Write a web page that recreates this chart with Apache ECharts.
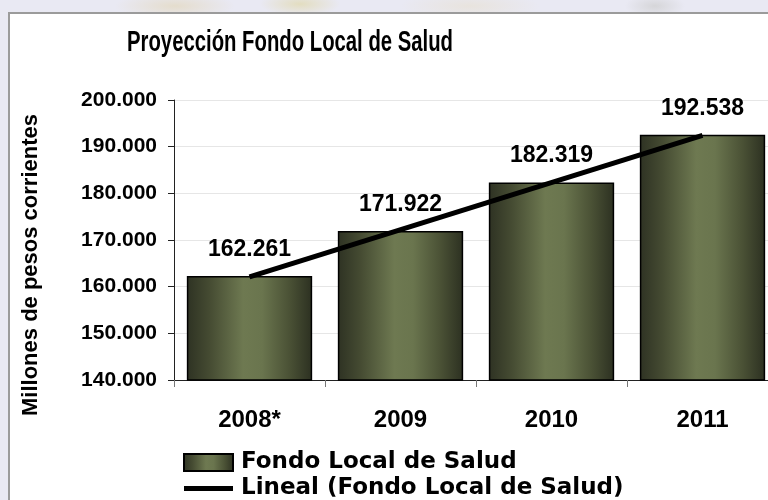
<!DOCTYPE html>
<html>
<head>
<meta charset="utf-8">
<script src="https://cdn.jsdelivr.net/npm/echarts@6/dist/echarts.min.js"></script>
<style>
  html, body { margin: 0; padding: 0; width: 768px; height: 500px; overflow: hidden; }
  body {
    position: relative;
    background:
      radial-gradient(ellipse 60px 14px at 175px 6px, rgba(226, 214, 184, 0.65), rgba(226, 214, 184, 0) 100%),
      radial-gradient(ellipse 40px 12px at 300px 4px, rgba(224, 216, 170, 0.7), rgba(224, 216, 170, 0) 100%),
      radial-gradient(ellipse 70px 14px at 470px 6px, rgba(232, 226, 216, 0.8), rgba(232, 226, 216, 0) 100%),
      radial-gradient(ellipse 30px 12px at 655px 6px, rgba(205, 205, 205, 0.7), rgba(205, 205, 205, 0) 100%),
      #e9e9f3;
  }
  #panel {
    position: absolute; left: 8px; top: 12px; width: 800px; height: 560px;
    background: #ffffff; border-left: 2px solid #9b9b9b; border-top: 2px solid #9b9b9b;
  }
  #chart { position: absolute; left: 0; top: 0; width: 790px; height: 560px; }
</style>
</head>
<body>
<div id="panel"></div>
<div id="chart"></div>
<script>
// Projected local health fund, millions of current pesos
const years = ['2008*', '2009', '2010', '2011'];
const fondoValues = [162261, 171922, 182319, 192538];
// Linear trendline end points (first and last category)
const trendValues = [162076, null, null, 192444];
const yTicks = { min: 140000, max: 200000, step: 10000 };

const fmt = v => String(Math.round(v)).replace(/\B(?=(\d{3})+(?!\d))/g, '.');
const FONT = 'Liberation Sans, Arial, sans-serif';

const chart = echarts.init(document.getElementById('chart'), null, { renderer: 'canvas' });

const barFill = new echarts.graphic.LinearGradient(0, 0, 1, 0, [
  { offset: 0, color: '#2e3223' },
  { offset: 0.18, color: '#454b32' },
  { offset: 0.45, color: '#6e7951' },
  { offset: 0.6, color: '#6a754e' },
  { offset: 0.82, color: '#4a5135' },
  { offset: 1, color: '#2c3021' }
]);

chart.setOption({
  backgroundColor: 'transparent',
  animation: false,
  grid: { left: 174, right: 12, top: 100, bottom: 180, containLabel: false },
  legend: {
    orient: 'vertical',
    left: 178,
    top: 446,
    itemWidth: 49,
    itemHeight: 17,
    itemGap: 3,
    textStyle: {
      fontFamily: 'DejaVu Sans, sans-serif', fontWeight: 'bold', fontSize: 23,
      color: '#000', padding: [0, 0, 0, 3]
    },
    data: [
      { name: 'Fondo Local de Salud', icon: 'rect' },
      { name: 'Lineal (Fondo Local de Salud)', icon: 'path://M0,0H49V5H0Z' }
    ]
  },
  graphic: [
    {
      // chart title, drawn condensed
      type: 'text',
      x: 290,
      y: 43,
      scaleX: 0.7,
      style: {
        text: 'Proyección Fondo Local de Salud',
        fontFamily: FONT, fontWeight: 'bold', fontSize: 29, fill: '#000',
        align: 'center', verticalAlign: 'middle'
      }
    },
    {
      type: 'text',
      x: 31,
      y: 265,
      rotation: Math.PI / 2,
      style: {
        text: 'Millones de pesos corrientes',
        fontFamily: FONT, fontWeight: 'bold', fontSize: 22, fill: '#000',
        align: 'center', verticalAlign: 'middle'
      }
    }
  ],
  xAxis: {
    type: 'category',
    data: years,
    axisLine: { lineStyle: { color: '#222', width: 1 } },
    axisTick: { show: true, length: 7, lineStyle: { color: '#777' } },
    axisLabel: { margin: 28, fontFamily: FONT, fontWeight: 'bold', fontSize: 24, color: '#000' }
  },
  yAxis: {
    type: 'value',
    min: yTicks.min,
    max: yTicks.max,
    interval: yTicks.step,
    axisLine: { show: true, lineStyle: { color: '#222', width: 1 } },
    axisTick: { show: true, length: 6, lineStyle: { color: '#222' } },
    axisLabel: { margin: 17, fontFamily: FONT, fontWeight: 'bold', fontSize: 21, color: '#000', formatter: fmt },
    splitLine: { show: true, lineStyle: { color: '#e6e6e6', width: 1 } }
  },
  series: [
    {
      name: 'Fondo Local de Salud',
      type: 'bar',
      data: fondoValues,
      barCategoryGap: '17%',
      itemStyle: { color: barFill, borderColor: '#000', borderWidth: 1.5 },
      label: {
        show: true, position: 'top', distance: 15,
        fontFamily: FONT, fontWeight: 'bold', fontSize: 23, color: '#000',
        formatter: p => fmt(p.value)
      },
      z: 2
    },
    {
      name: 'Lineal (Fondo Local de Salud)',
      type: 'line',
      data: trendValues,
      connectNulls: true,
      symbol: 'none',
      lineStyle: { color: '#000', width: 5, cap: 'butt' },
      itemStyle: { color: '#000' },
      z: 3
    }
  ]
});
</script>
</body>
</html>
